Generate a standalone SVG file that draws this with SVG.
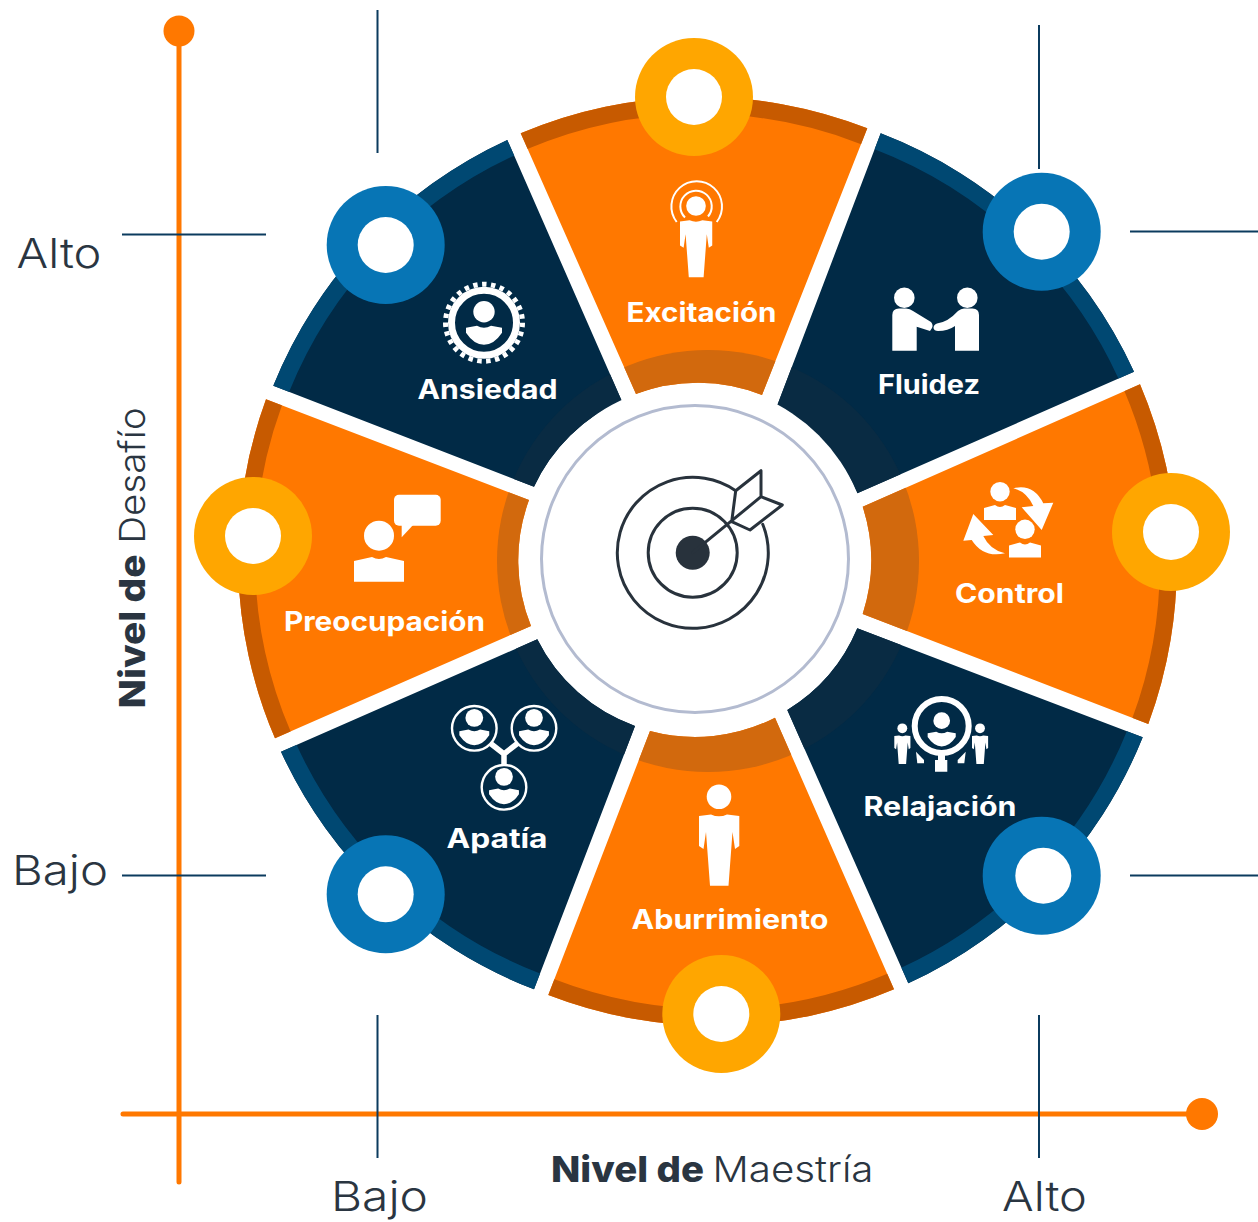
<svg xmlns="http://www.w3.org/2000/svg" xmlns:xlink="http://www.w3.org/1999/xlink" width="1258" height="1222" viewBox="0 0 1258 1222">
<style>
text{font-family:Inter,"Liberation Sans",sans-serif}
.lab{font-size:26.5px;font-weight:700;fill:#fff}
.ax{font-size:41px;font-weight:300;fill:#2a3541}
.ttl{font-size:36px;font-weight:300;fill:#2a3541}
.ttl .b,.b{font-weight:800}
.o{fill:#ff7800}.n{fill:#012a46}
.w{fill:#fff}
.bo,.bn{fill:none;stroke-linecap:square}
.bo{stroke:#c75a00;stroke-width:34}.bn{stroke:#004872;stroke-width:34}
.to{fill:#d2690d}.tn{fill:#092b43}
.ra{fill:#ffa600}.rb{fill:#0775b5}
.thin{stroke:#0b3b5e;stroke-width:2;fill:none}
.axis{stroke:#ff7800;stroke-width:5;stroke-linecap:round;fill:none}
.tg{fill:none;stroke:#28323c;stroke-width:3;stroke-linejoin:round;stroke-linecap:round}
</style>
<defs>
<g id="man"><circle cx="0" cy="0" r="12.3" fill="#fff"/><path fill="#fff" d="M-20,19.3L-8,17.8Q0,21.5 8,17.8L20.3,19.3V49.3L16,52.3L13.5,35.3L9.5,89H-9L-13,35.3L-15.5,52.3L-20,49.3Z"/></g>
<g id="bust"><circle cx="0" cy="-11" r="10.7" fill="#fff"/><path fill="#fff" d="M-18,5L-7,3Q0,7 7,3L18,5V10Q10,22 0,22Q-10,22 -18,10Z"/></g>
<path id="torso" fill="#fff" d="M-16,3L-5,0Q0,4 5,0L16,3V15H-16Z"/>
<clipPath id="c1"><path d="M273.3,385.7A460,460 0 0 1 507.3,140L621.7,400.7A175,175 0 0 0 534,486.7Z"/></clipPath>
<clipPath id="c2"><path d="M520.7,133.3A460,460 0 0 1 867.3,128.3L762,395A175,175 0 0 0 636,394Z"/></clipPath>
<clipPath id="c3"><path d="M880.7,133.3A460,460 0 0 1 1134,371.7L857.3,493.3A175,175 0 0 0 777,406Z"/></clipPath>
<clipPath id="c4"><path d="M1140,384.3A460,460 0 0 1 1148.3,724L862.7,614A175,175 0 0 0 862.7,506.7Z"/></clipPath>
<clipPath id="c5"><path d="M1142.7,737.3A460,460 0 0 1 908.3,983.3L787.3,710A175,175 0 0 0 857.3,628.3Z"/></clipPath>
<clipPath id="c6"><path d="M894,989.3A460,460 0 0 1 548.3,995L650,731A175,175 0 0 0 775,717.7Z"/></clipPath>
<clipPath id="c7"><path d="M534,989.3A460,460 0 0 1 281,751.7L537.3,639.3A175,175 0 0 0 635,726Z"/></clipPath>
<clipPath id="c8"><path d="M275,738.3A460,460 0 0 1 266,399.3L529,500A175,175 0 0 0 531,626Z"/></clipPath>
</defs>
<rect width="1258" height="1222" fill="#fff"/>

<g id="connectors">
<path class="axis" d="M179,31V1182M123,1114H1202"/>
<circle cx="179" cy="31" r="15.5" fill="#ff7800"/>
<circle cx="1202" cy="1114" r="16" fill="#ff7800"/>
<path class="thin" d="M377.5,10V153M1039,25V169M377.5,1015V1158M1039,1015V1158M122,234.5H266M1130,231.5H1258M122,875.5H266M1130,875.5H1258"/>
</g>

<g id="ansiedad">
<path class="n" d="M273.3,385.7A460,460 0 0 1 507.3,140L621.7,400.7A175,175 0 0 0 534,486.7Z"/>
<g clip-path="url(#c1)"><path class="bn" d="M273.3,385.7A460,460 0 0 1 507.3,140"/><circle class="tn" cx="708" cy="561" r="211"/></g>
<circle cx="385.7" cy="245" r="59" class="rb"/><circle cx="385.7" cy="245" r="28" class="w"/>
<circle cx="484" cy="322.7" r="38.5" fill="none" stroke="#fff" stroke-width="5" stroke-dasharray="4.48 4.48"/>
<circle cx="484" cy="322.7" r="32.5" fill="none" stroke="#fff" stroke-width="7"/>
<use href="#bust" x="484" y="322.7"/>
<text class="lab" x="417.500" y="399" textLength="140" lengthAdjust="spacingAndGlyphs">Ansiedad</text>
</g>

<g id="excitacion">
<path class="o" d="M520.7,133.3A460,460 0 0 1 867.3,128.3L762,395A175,175 0 0 0 636,394Z"/>
<g clip-path="url(#c2)"><path class="bo" d="M520.7,133.3A460,460 0 0 1 867.3,128.3"/><circle class="to" cx="708" cy="561" r="211"/></g>
<circle cx="694" cy="97" r="59" class="ra"/><circle cx="694" cy="97" r="28" class="w"/>
<use href="#man" transform="translate(696,206) scale(.8)"/>
<path d="M685,217.500A15.700,15.700 0 1 1 708,216.500" fill="none" stroke="#fff" stroke-width="2"/>
<path d="M676.700,222A25.300,25.300 0 1 1 716.700,222" fill="none" stroke="#fff" stroke-width="2"/>
<text class="lab" x="626.500" y="322" textLength="150" lengthAdjust="spacingAndGlyphs">Excitación</text>
</g>

<g id="fluidez">
<path class="n" d="M880.7,133.3A460,460 0 0 1 1134,371.7L857.3,493.3A175,175 0 0 0 777,406Z"/>
<g clip-path="url(#c3)"><path class="bn" d="M880.7,133.3A460,460 0 0 1 1134,371.7"/><circle class="tn" cx="708" cy="561" r="211"/></g>
<circle cx="1041.7" cy="231.7" r="59" class="rb"/><circle cx="1041.7" cy="231.7" r="28" class="w"/>
<circle cx="904.300" cy="297.700" r="10.300" class="w"/><circle cx="967.300" cy="297.700" r="10.300" class="w"/>
<path class="w" d="M892.300,350.700V315Q892.300,308.500 899,308.500H906Q910,308.500 913,311L931,322Q933.500,325 932,328L930,331L916.700,326.700V350.700Z"/>
<path class="w" d="M979,350.700V315Q979,308.500 972.500,308.500H964Q961,308.500 958,311Q948,322 937,323.500Q933.500,324.500 933.500,328Q934,331 938,331Q948,331 955,326V350.700Z"/>
<text class="lab" x="878" y="394" textLength="102" lengthAdjust="spacingAndGlyphs">Fluidez</text>
</g>

<g id="control">
<path class="o" d="M1140,384.3A460,460 0 0 1 1148.3,724L862.7,614A175,175 0 0 0 862.7,506.7Z"/>
<g clip-path="url(#c4)"><path class="bo" d="M1140,384.3A460,460 0 0 1 1148.3,724"/><circle class="to" cx="708" cy="561" r="211"/></g>
<circle cx="1171" cy="532" r="59" class="ra"/><circle cx="1171" cy="532" r="28" class="w"/>
<circle cx="1000" cy="491.700" r="9.700" class="w"/><use href="#torso" x="1000" y="505"/>
<circle cx="1025" cy="529.300" r="9.700" class="w"/><use href="#torso" x="1025" y="542.500"/>
<path class="w" d="M1013.300,488.300Q1033.300,483.300 1043.300,503.300L1053.300,502.700L1041.700,530L1021.700,507.300L1033.300,506Q1026.700,491.700 1013.300,488.300Z"/>
<path class="w" d="M1005,553.300Q983.300,558.300 971.700,540L963.300,540.700L973.300,514L993.300,535L983.300,536Q990,550 1005,553.300Z"/>
<text class="lab" x="955" y="603" textLength="109" lengthAdjust="spacingAndGlyphs">Control</text>
</g>

<g id="relajacion">
<path class="n" d="M1142.7,737.3A460,460 0 0 1 908.3,983.3L787.3,710A175,175 0 0 0 857.3,628.3Z"/>
<g clip-path="url(#c5)"><path class="bn" d="M1142.7,737.3A460,460 0 0 1 908.3,983.3"/><circle class="tn" cx="708" cy="561" r="211"/></g>
<circle cx="1041.7" cy="875.7" r="59" class="rb"/><circle cx="1043.3" cy="875.7" r="28" class="w"/>
<circle cx="941.700" cy="726" r="27" fill="none" stroke="#fff" stroke-width="6"/>
<use href="#bust" transform="translate(941.700,729.300) scale(.78)"/>
<path class="w" d="M938,753H945V760H947.300V771.700H935V760H938Z"/>
<path class="w" d="M916,751.700L924,760V763.300H917.300Z"/>
<path class="w" d="M965.700,751.700L957.700,760V763.300H964.300Z"/>
<use href="#man" transform="translate(902.300,728.300) scale(.4)"/>
<use href="#man" transform="translate(980,728.300) scale(.4)"/>
<text class="lab" x="863.500" y="816" textLength="153" lengthAdjust="spacingAndGlyphs">Relajación</text>
</g>

<g id="aburrimiento">
<path class="o" d="M894,989.3A460,460 0 0 1 548.3,995L650,731A175,175 0 0 0 775,717.7Z"/>
<g clip-path="url(#c6)"><path class="bo" d="M894,989.3A460,460 0 0 1 548.3,995"/><circle class="to" cx="708" cy="561" r="211"/></g>
<circle cx="721.3" cy="1014" r="59" class="ra"/><circle cx="721.3" cy="1014" r="28" class="w"/>
<use href="#man" x="719" y="796.700"/>
<text class="lab" x="631.500" y="929" textLength="197" lengthAdjust="spacingAndGlyphs">Aburrimiento</text>
</g>

<g id="apatia">
<path class="n" d="M534,989.3A460,460 0 0 1 281,751.7L537.3,639.3A175,175 0 0 0 635,726Z"/>
<g clip-path="url(#c7)"><path class="bn" d="M534,989.3A460,460 0 0 1 281,751.7"/><circle class="tn" cx="708" cy="561" r="211"/></g>
<circle cx="385.7" cy="894.3" r="59" class="rb"/><circle cx="385.7" cy="894.3" r="28" class="w"/>
<path d="M490,743L504,754L518,743M504,754V768" fill="none" stroke="#fff" stroke-width="5.500"/>
<g fill="#012a46" stroke="#fff" stroke-width="2.400"><circle cx="474.300" cy="728.300" r="22.300"/><circle cx="534" cy="728.300" r="22.300"/><circle cx="504" cy="787.300" r="22.300"/></g>
<use href="#bust" transform="translate(474.300,727) scale(.83)"/>
<use href="#bust" transform="translate(534,727) scale(.83)"/>
<use href="#bust" transform="translate(504,786) scale(.83)"/>
<text class="lab" x="446.500" y="848" textLength="101" lengthAdjust="spacingAndGlyphs">Apatía</text>
</g>

<g id="preocupacion">
<path class="o" d="M275,738.3A460,460 0 0 1 266,399.3L529,500A175,175 0 0 0 531,626Z"/>
<g clip-path="url(#c8)"><path class="bo" d="M275,738.3A460,460 0 0 1 266,399.3"/><circle class="to" cx="708" cy="561" r="211"/></g>
<circle cx="253" cy="536" r="59" class="ra"/><circle cx="253" cy="536" r="28" class="w"/>
<circle cx="379" cy="535.700" r="15" class="w"/>
<path class="w" d="M354,561L372,557Q379,561 386,557L404,561V581.700H354Z"/>
<rect class="w" x="394" y="494.700" width="46.700" height="31" rx="5"/>
<path class="w" d="M401.700,524L401.700,537.300L414,524Z"/>
<text class="lab" x="284" y="631" textLength="201" lengthAdjust="spacingAndGlyphs">Preocupación</text>
</g>

<g id="centro">
<circle cx="695" cy="559" r="175" class="w"/>
<circle cx="695" cy="559" r="153.500" fill="#fff" stroke="#b3bbd0" stroke-width="3"/>
<path class="tg" d="M762.700,524.300A75.500,75.500 0 1 1 735.700,490.700"/>
<circle class="tg" cx="692.700" cy="552.700" r="44.500"/>
<circle cx="692.700" cy="552.700" r="17" fill="#28323c"/>
<path class="tg" d="M692.700,552.700L761,496.700M731.700,521.700L735.700,490.700L761,470.700V496.700L782.300,505L750,530L731.700,521.700"/>
</g>

<g id="ejes">
<text class="ax" x="16.500" y="268" textLength="85" lengthAdjust="spacingAndGlyphs">Alto</text>
<text class="ax" x="12" y="885" textLength="96" lengthAdjust="spacingAndGlyphs">Bajo</text>
<text class="ax" x="331" y="1211" textLength="97" lengthAdjust="spacingAndGlyphs">Bajo</text>
<text class="ax" x="1002" y="1211" textLength="85" lengthAdjust="spacingAndGlyphs">Alto</text>
<text class="ttl" x="551" y="1182" textLength="153" lengthAdjust="spacingAndGlyphs"><tspan class="b">Nivel de</tspan></text>
<text class="ttl" x="712.500" y="1182" textLength="161" lengthAdjust="spacingAndGlyphs">Maestría</text>
<text class="ttl" transform="translate(145,708.500) rotate(-90)" textLength="301" lengthAdjust="spacingAndGlyphs"><tspan class="b">Nivel de</tspan> Desafío</text>
</g>
</svg>
